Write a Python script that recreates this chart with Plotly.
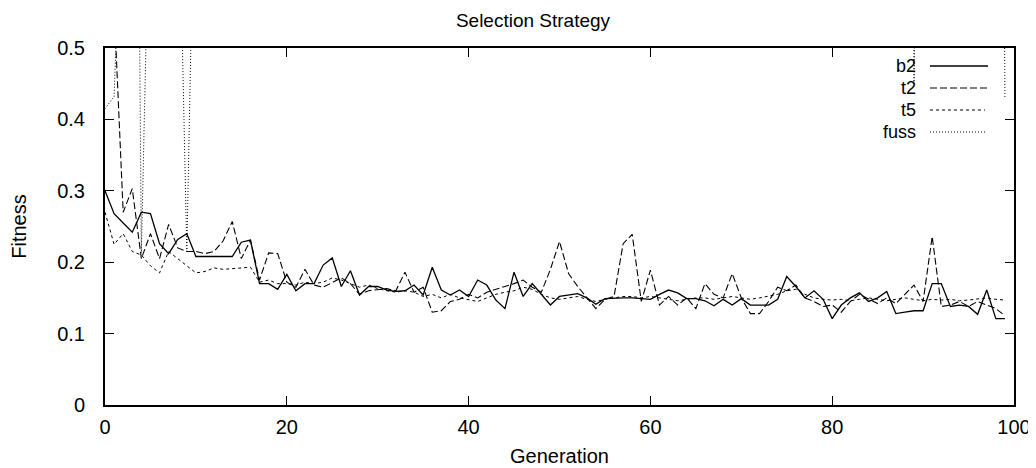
import plotly.graph_objects as go

generation = list(range(100))

b2 = [0.300, 0.268, 0.255, 0.242, 0.270, 0.268, 0.226, 0.212, 0.232, 0.240,
      0.208, 0.208, 0.208, 0.208, 0.208, 0.228, 0.231, 0.170, 0.170, 0.162,
      0.183, 0.160, 0.170, 0.170, 0.196, 0.206, 0.166, 0.188, 0.154, 0.166,
      0.166, 0.161, 0.159, 0.160, 0.168, 0.154, 0.193, 0.161, 0.154, 0.161,
      0.152, 0.175, 0.168, 0.147, 0.135, 0.186, 0.152, 0.170, 0.155, 0.140,
      0.152, 0.154, 0.156, 0.150, 0.141, 0.149, 0.150, 0.150, 0.150, 0.149,
      0.148, 0.155, 0.161, 0.157, 0.149, 0.149, 0.146, 0.139, 0.148, 0.140,
      0.149, 0.140, 0.140, 0.140, 0.148, 0.180, 0.166, 0.150, 0.160, 0.148,
      0.121, 0.140, 0.150, 0.157, 0.145, 0.150, 0.159, 0.128, 0.130, 0.132,
      0.132, 0.170, 0.170, 0.138, 0.140, 0.138, 0.127, 0.161, 0.121, 0.121]

t2 = [0.620, 0.560, 0.270, 0.303, 0.205, 0.240, 0.205, 0.253, 0.220, 0.215,
      0.215, 0.212, 0.215, 0.230, 0.257, 0.205, 0.231, 0.175, 0.213, 0.212,
      0.172, 0.165, 0.190, 0.168, 0.165, 0.172, 0.178, 0.170, 0.155, 0.160,
      0.162, 0.163, 0.160, 0.186, 0.158, 0.165, 0.130, 0.132, 0.145, 0.148,
      0.155, 0.150, 0.158, 0.162, 0.165, 0.170, 0.175, 0.165, 0.158, 0.190,
      0.229, 0.184, 0.166, 0.150, 0.135, 0.148, 0.152, 0.226, 0.239, 0.145,
      0.189, 0.140, 0.152, 0.140, 0.150, 0.135, 0.170, 0.155, 0.150, 0.184,
      0.150, 0.128, 0.128, 0.145, 0.165, 0.160, 0.168, 0.150, 0.145, 0.138,
      0.140, 0.130, 0.145, 0.155, 0.148, 0.142, 0.150, 0.142, 0.155, 0.168,
      0.145, 0.236, 0.138, 0.140, 0.145, 0.138, 0.145, 0.140, 0.135, 0.125]

t5 = [0.270, 0.225, 0.240, 0.215, 0.210, 0.195, 0.185, 0.215, 0.205, 0.195,
      0.185, 0.187, 0.192, 0.190, 0.191, 0.192, 0.193, 0.172, 0.175, 0.170,
      0.170, 0.168, 0.172, 0.170, 0.172, 0.178, 0.175, 0.170, 0.165, 0.168,
      0.163, 0.160, 0.158, 0.160, 0.158, 0.152, 0.155, 0.150, 0.155, 0.150,
      0.148, 0.145, 0.150, 0.155, 0.158, 0.160, 0.165, 0.162, 0.155, 0.150,
      0.148, 0.150, 0.152, 0.148, 0.145, 0.148, 0.150, 0.152, 0.152, 0.150,
      0.152, 0.150, 0.148, 0.146, 0.148, 0.150, 0.150, 0.148, 0.150, 0.152,
      0.150, 0.148, 0.150, 0.152, 0.155, 0.160, 0.162, 0.155, 0.150, 0.148,
      0.147, 0.148, 0.146, 0.148, 0.150, 0.148, 0.146, 0.148, 0.150, 0.148,
      0.146, 0.148, 0.147, 0.148, 0.146, 0.147, 0.148, 0.150, 0.148, 0.147]

fuss = [0.415, 0.432, 0.780, 1.800, 0.213, 0.790, 1.200, 1.100, 0.810, 0.215,
        0.865, 1.400, 1.300, 1.600, 1.200, 1.500, 1.700, 1.300, 1.100, 1.400,
        1.250, 1.350, 1.500, 1.200, 1.300, 1.450, 1.150, 1.300, 1.600, 1.400,
        1.200, 1.350, 1.500, 1.250, 1.300, 1.450, 1.200, 1.350, 1.400, 1.300,
        1.250, 1.500, 1.350, 1.200, 1.300, 1.450, 1.250, 1.400, 1.300, 1.350,
        1.200, 1.500, 1.300, 1.250, 1.400, 1.350, 1.300, 1.450, 1.200, 1.300,
        1.350, 1.250, 1.400, 1.300, 1.500, 1.200, 1.350, 1.300, 1.450, 1.250,
        1.300, 1.400, 1.350, 1.200, 1.300, 1.500, 1.250, 1.400, 1.300, 1.350,
        1.200, 1.450, 1.300, 1.250, 1.400, 1.350, 1.300, 1.500, 3.000, 0.450,
        3.000, 2.800, 3.200, 2.900, 3.100, 3.000, 2.900, 3.100, 3.000, 0.430]

series_names = ["b2", "t2", "t5", "fuss"]
series_values = [b2, t2, t5, fuss]
dashes = ["solid", "7px,3px", "3px,3px", "1px,2px"]
widths = [1.3, 1.1, 1.0, 1.0]

FONT = "Liberation Sans, Arial, sans-serif"

# page is offset by the default 8px body margin; plot area in page px:
# left 105, right 1014, top 48, bottom 405
PL, PR, PT, PB = 105.0, 1014.0, 48.0, 405.0
W, H = 1036.0, 468.0

def px(xp):
    return (xp - PL) / (PR - PL)

def py(yp):
    return (PB - yp) / (PB - PT)

fig = go.Figure()
for name, vals, dash, w in zip(series_names, series_values, dashes, widths):
    fig.add_trace(go.Scatter(x=generation, y=vals, mode="lines", name=name,
                             line=dict(color="black", width=w, dash=dash),
                             showlegend=False))

# gnuplot-style legend: label on the left, sample line on the right
legend_y = [66.0, 88.0, 110.0, 132.0]
legend_len = [58, 58, 55, 57]
for name, dash, w, yy, ln in zip(series_names, dashes, widths, legend_y, legend_len):
    fig.add_annotation(x=px(918), y=py(yy), xref="paper", yref="paper",
                       text=name, showarrow=False, xanchor="right", yanchor="middle",
                       font=dict(family=FONT, size=18, color="black"))
    fig.add_shape(type="line", xref="paper", yref="paper",
                  x0=px(930), x1=px(930 + ln), y0=py(yy), y1=py(yy),
                  line=dict(color="black", width=w, dash=dash))

axis_common = dict(showline=True, linecolor="black", linewidth=2, mirror="allticks",
                   ticks="inside", ticklen=9, tickcolor="black", tickwidth=1.3,
                   showgrid=False, zeroline=False, automargin=False,
                   tickfont=dict(family=FONT, size=20, color="black"))

fig.update_layout(
    width=1036, height=468,
    paper_bgcolor="white", plot_bgcolor="white",
    margin=dict(l=97, r=30, t=40, b=71),
    title=dict(text="Selection Strategy", x=(533 - 8) / W, xref="container",
               xanchor="center", y=1 - 12 / H, yanchor="middle",
               font=dict(family=FONT, size=19, color="black")),
    xaxis=dict(range=[0, 100], tickvals=[0, 20, 40, 60, 80, 100],
               title=dict(text="Generation", standoff=12,
                          font=dict(family=FONT, size=20, color="black")),
               ticklabelstandoff=3, **axis_common),
    yaxis=dict(range=[0, 0.5], tickvals=[0, 0.1, 0.2, 0.3, 0.4, 0.5],
               ticktext=["0", "0.1", "0.2", "0.3", "0.4", "0.5"],
               title=dict(text="Fitness", standoff=30,
                          font=dict(family=FONT, size=20, color="black")),
               ticklabelstandoff=14, **axis_common),
)

fig.write_html("out.html")
